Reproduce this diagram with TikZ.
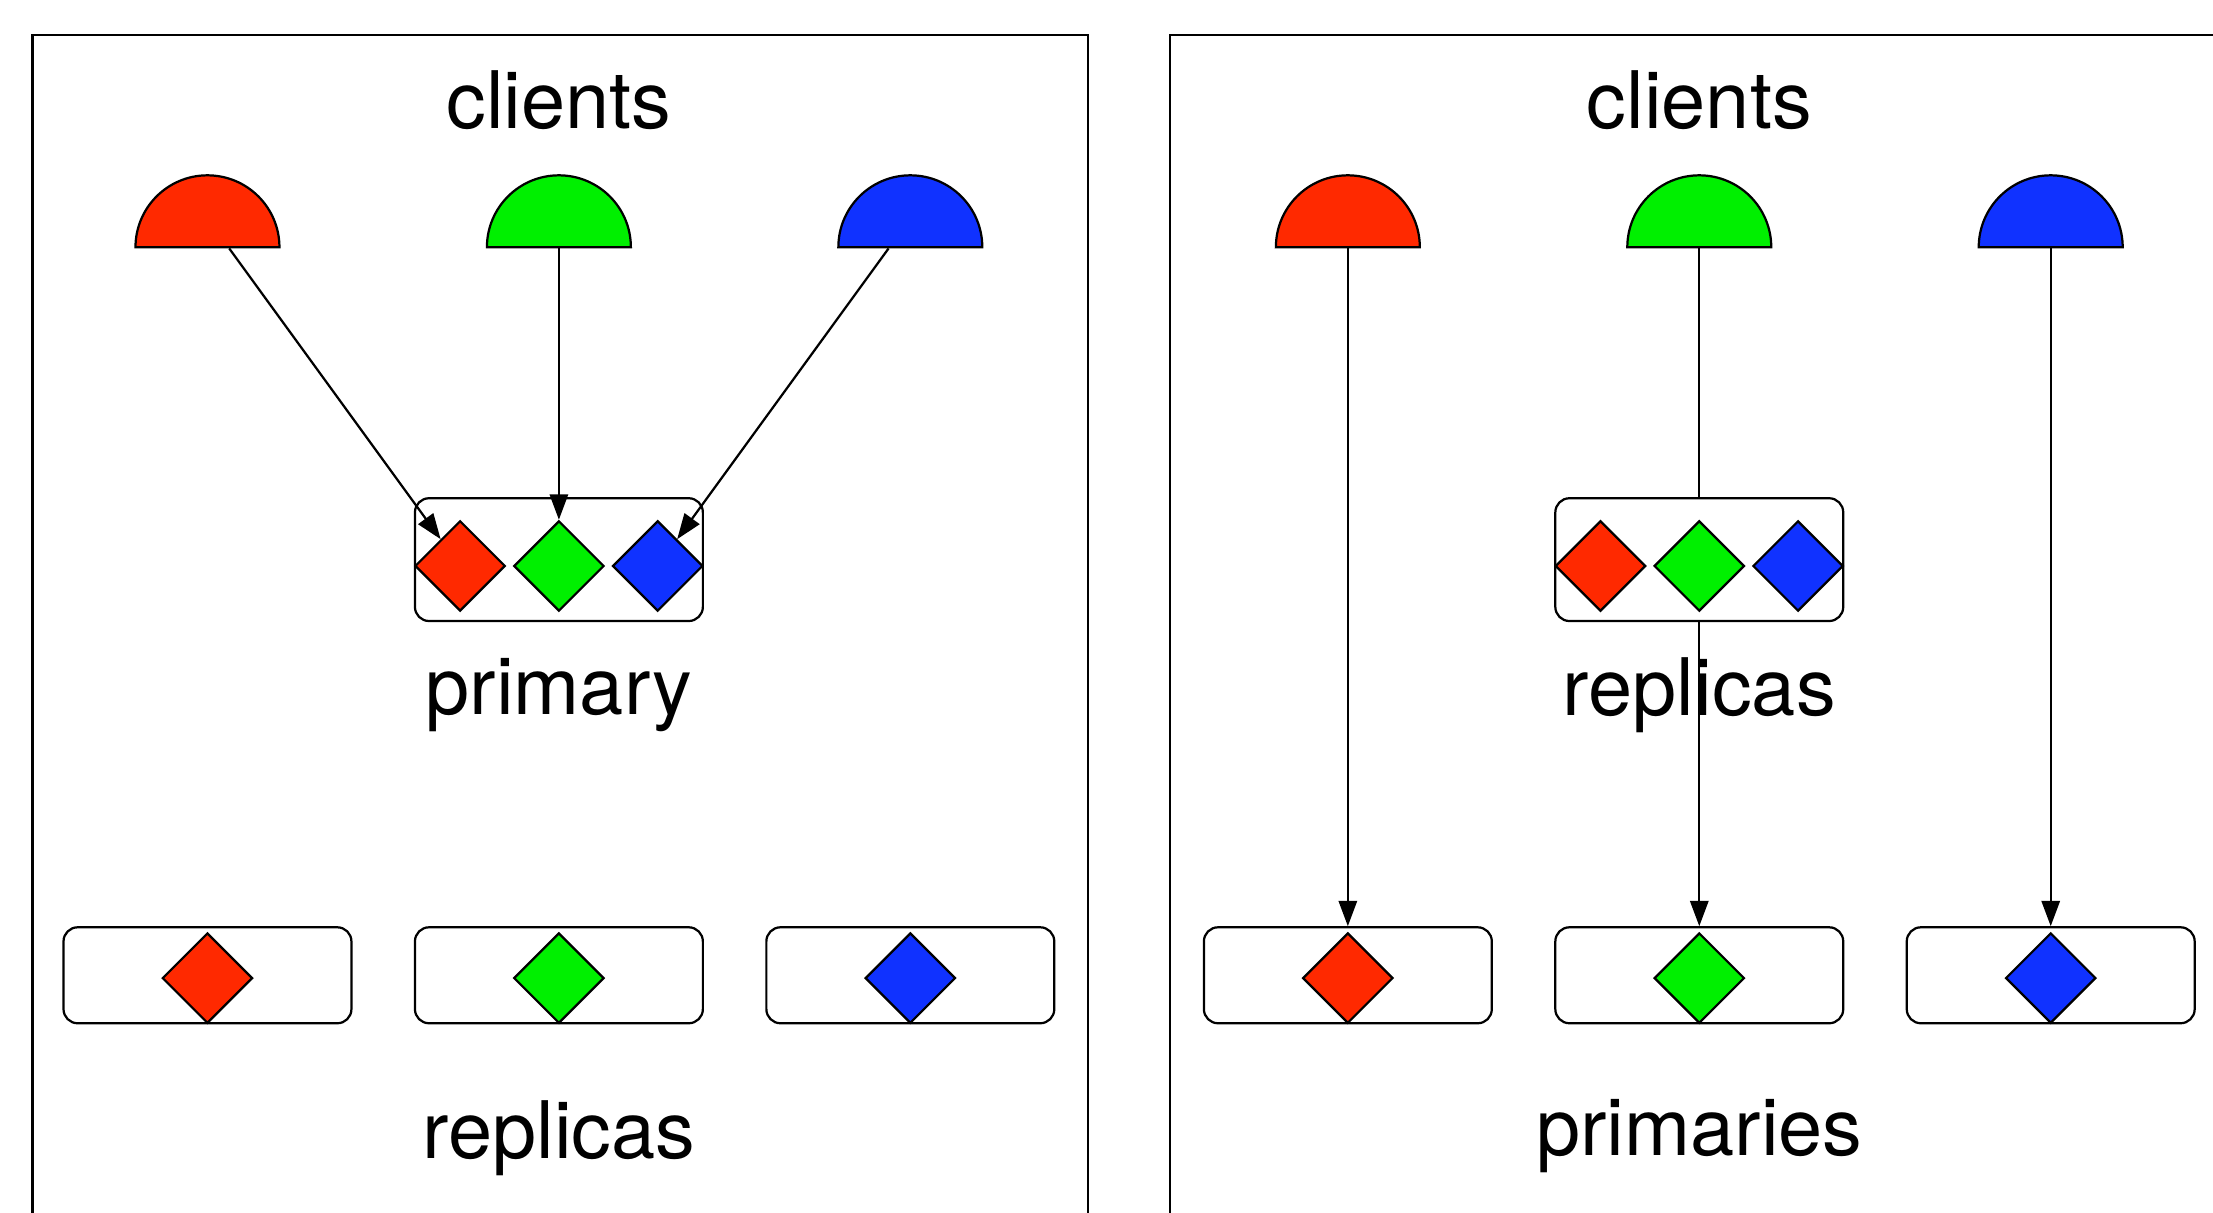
\documentclass[tikz,border=0pt]{standalone}
\usepackage{fontspec}
\setmainfont{TeX Gyre Heros}
\usepackage{tikz}
\usetikzlibrary{shapes.geometric,arrows.meta,backgrounds}
\definecolor{shardred}{RGB}{255,41,0}
\definecolor{shardgreen}{RGB}{0,240,0}
\definecolor{shardblue}{RGB}{16,50,255}
\tikzset{
  panel/.style={draw=black, line width=0.45pt},
  panellabel/.style={font=\fontsize{16}{19}\selectfont, anchor=base,
    inner sep=0pt},
  client/.style={draw=black, line width=0.45pt, semicircle, inner sep=0pt,
    minimum width=1.02cm, anchor=chord center},
  shard/.style={draw=black, line width=0.45pt, diamond, inner sep=0pt,
    minimum width=0.64cm, minimum height=0.64cm},
  hostbox/.style={draw=black, fill=white, line width=0.45pt,
    rounded corners=0.1cm, minimum width=2.04cm, inner sep=0pt},
  req/.style={-{Triangle[length=1.8mm, width=1.3mm]}, line width=0.45pt},
}

\begin{document}
\begin{tikzpicture}
\clip (0,0) rectangle (15.68,-8.59);

%% Left: single primary
\draw[panel] (0.23,-0.25) rectangle (7.71,-9.2);
\node[panellabel] (lclients) at (3.96,-0.91) {clients};

\node[client, fill=shardred]   (lc1) at (1.47,-1.76) {};
\node[client, fill=shardgreen] (lc2) at (3.96,-1.76) {};
\node[client, fill=shardblue]  (lc3) at (6.45,-1.76) {};

\node[hostbox, minimum height=0.87cm] (lprim) at (3.96,-3.965) {};
\node[shard, fill=shardred]   (lp1) at (3.26,-4.01) {};
\node[shard, fill=shardgreen] (lp2) at (3.96,-4.01) {};
\node[shard, fill=shardblue]  (lp3) at (4.66,-4.01) {};
\node[panellabel] (lprimary) at (3.96,-5.06) {primary};

\draw[req] (lc1) -- (lp1);
\draw[req] (lc2) -- (lp2);
\draw[req] (lc3) -- (lp3);

\node[hostbox, minimum height=0.68cm] (lrb1) at (1.47,-6.91) {};
\node[hostbox, minimum height=0.68cm] (lrb2) at (3.96,-6.91) {};
\node[hostbox, minimum height=0.68cm] (lrb3) at (6.45,-6.91) {};
\node[shard, fill=shardred]   (lr1) at (1.47,-6.93) {};
\node[shard, fill=shardgreen] (lr2) at (3.96,-6.93) {};
\node[shard, fill=shardblue]  (lr3) at (6.45,-6.93) {};
\node[panellabel] (lreplicas) at (3.96,-8.21) {replicas};

%% Right: one primary per client
\draw[panel] (8.29,-0.25) rectangle (16.2,-9.2);
\node[panellabel] (rclients) at (12.04,-0.91) {clients};

\node[client, fill=shardred]   (rc1) at (9.55,-1.76) {};
\node[client, fill=shardgreen] (rc2) at (12.04,-1.76) {};
\node[client, fill=shardblue]  (rc3) at (14.53,-1.76) {};

\node[hostbox, minimum height=0.68cm] (rpb1) at (9.55,-6.91) {};
\node[hostbox, minimum height=0.68cm] (rpb2) at (12.04,-6.91) {};
\node[hostbox, minimum height=0.68cm] (rpb3) at (14.53,-6.91) {};
\node[shard, fill=shardred]   (rp1) at (9.55,-6.93) {};
\node[shard, fill=shardgreen] (rp2) at (12.04,-6.93) {};
\node[shard, fill=shardblue]  (rp3) at (14.53,-6.93) {};
\node[panellabel] (rprimaries) at (12.04,-8.19) {primaries};

\draw[req] (rc1) -- (rpb1);
\begin{scope}[on background layer]
  \draw[req] (rc2) -- (rpb2);
\end{scope}
\draw[req] (rc3) -- (rpb3);

\node[hostbox, minimum height=0.87cm] (rrep) at (12.04,-3.965) {};
\node[shard, fill=shardred]   (rr1) at (11.34,-4.01) {};
\node[shard, fill=shardgreen] (rr2) at (12.04,-4.01) {};
\node[shard, fill=shardblue]  (rr3) at (12.74,-4.01) {};
\node[panellabel] (rreplicas) at (12.04,-5.07) {replicas};
\end{tikzpicture}
\end{document}
